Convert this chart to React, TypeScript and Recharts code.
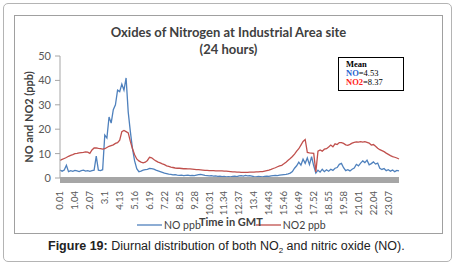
import React from "react";
import { LineChart, Line, XAxis, YAxis } from "recharts";

const TICK_LABELS = [
  "0.01", "1.04", "2.07", "3.1", "4.13", "5.16", "6.19", "7.22", "8.25", "9.28",
  "10.31", "11.34", "12.37", "13.4", "14.43", "15.46", "16.49", "17.52", "18.55",
  "19.58", "21.01", "22.04", "23.07",
];
const POINTS_PER_TICK = 7;

const Y_TICKS = [0, 10, 20, 30, 40, 50];

// NO (ppb), one reading every 9 minutes from 0.01
const NO = [
  3.2, 2.8, 3.3, 5.2, 2.6, 3.0, 2.7, 3.1, 2.9, 2.6,
  3.0, 3.2, 2.8, 3.0, 2.7, 3.0, 3.2, 9.0, 3.2, 3.0,
  3.4, 17.6, 16.4, 25.0, 22.5, 28.0, 30.0, 36.0, 35.4, 38.5,
  36.0, 41.0, 27.0, 19.0, 12.0, 7.0, 3.8, 2.6, 2.8, 3.2,
  3.4, 3.5, 3.9, 3.8, 3.6, 3.2, 2.9, 2.6, 2.3, 2.0,
  1.8, 1.6, 1.5, 1.3, 1.4, 1.2, 1.1, 1.2, 1.0, 1.1,
  1.2, 1.0, 1.1, 1.0, 1.2, 1.4, 1.5, 1.3, 1.1, 1.0,
  0.9, 1.0, 0.8, 0.9, 0.7, 0.8, 0.6, 0.7, 0.5, 0.6,
  0.5, 0.7, 0.8, 0.6, 0.9, 1.0, 0.8, 1.1, 0.9, 1.0,
  0.8, 0.6, 0.5, 0.7, 0.6, 0.5, 0.7, 0.8, 0.7, 0.9,
  1.0, 1.1, 1.0, 1.2, 1.3, 1.4, 1.5, 1.7, 2.0, 2.6,
  4.0, 5.0, 6.5, 5.3, 7.7, 6.0, 8.2, 5.5, 8.7, 5.0,
  2.0, 3.2, 2.4, 3.6, 2.6, 3.4, 2.8, 3.6, 3.1, 4.0,
  4.3, 5.6, 6.0, 4.2, 3.0, 3.4, 2.9, 3.6, 4.1, 5.6,
  5.0, 6.1, 7.0, 6.3, 7.3, 5.4, 5.9, 6.6, 5.7, 6.1,
  4.0, 3.5, 3.9, 3.0, 3.4, 2.8, 3.3, 2.6, 3.1, 2.9,
];

// NO2 (ppb), same time steps
const NO2 = [
  7.2, 7.6, 8.0, 8.4, 8.9, 9.3, 9.6, 10.0, 10.1, 10.3,
  10.4, 10.5, 10.7, 10.6, 10.1, 11.5, 12.3, 12.3, 12.1, 12.0,
  11.8, 12.0, 12.5, 13.0, 13.3, 13.6, 14.2, 14.5, 15.5, 19.0,
  19.5, 19.0, 18.5, 15.0, 12.0, 9.5, 7.8, 7.0, 6.5, 6.2,
  6.5, 7.2, 8.5, 8.3, 7.6, 7.0, 6.5, 6.2, 5.8, 5.5,
  5.0, 4.8, 4.5, 4.3, 4.1, 4.0, 4.0, 3.9, 3.8, 3.8,
  3.7, 3.7, 3.6, 3.5, 3.4, 3.4, 3.3, 3.2, 3.1, 3.1,
  3.0, 3.0, 3.0, 2.9, 2.9, 2.9, 2.9, 2.8, 2.8, 2.7,
  2.6, 2.5, 2.5, 2.4, 2.4, 2.3, 2.3, 2.3, 2.3, 2.4,
  2.4, 2.4, 2.5, 2.5, 2.6, 2.6, 2.8, 3.0, 3.2, 3.5,
  3.9, 4.2, 4.6, 5.0, 5.2, 5.8, 6.5, 7.3, 8.0, 8.8,
  9.8, 11.0, 12.0, 13.5, 15.0, 15.8, 10.5, 10.3, 10.2, 10.1,
  2.5, 11.0, 11.5, 11.0, 11.8, 12.0, 12.7, 13.5, 12.8, 14.0,
  13.7, 14.5, 14.5, 14.2, 13.6, 13.4, 13.8, 14.3, 14.6, 14.8,
  14.7, 14.9, 14.7, 14.9, 14.6, 14.3, 13.5, 13.7, 13.0, 12.2,
  11.6, 11.2, 10.8, 10.2, 9.7, 9.2, 8.8, 8.5, 8.2, 7.8,
];

const SERIES = [
  { key: "no", name: "NO ppb", color: "#4f81bd" },
  { key: "no2", name: "NO2 ppb", color: "#c0504d" },
];

const data = NO.map((v, i) => ({ i, no: v, no2: NO2[i] }));
const xTicks = TICK_LABELS.map((_, k) => k * POINTS_PER_TICK);

const SANS = "Lato, 'Open Sans', sans-serif";
const SERIF = "'Liberation Serif', 'DejaVu Serif', serif";

const XTick = (props: any) => {
  const { x, y, payload } = props;
  const label = TICK_LABELS[Math.round(payload.value / POINTS_PER_TICK)] ?? "";
  const ty = y + 11;
  return (
    <text
      x={x}
      y={ty}
      transform={`rotate(-90, ${x}, ${ty})`}
      textAnchor="end"
      dy="0.35em"
      fontSize={9.5}
      fontFamily={SANS}
      fill="#595959"
    >
      {label}
    </text>
  );
};

export default function App() {
  return (
    <div style={{ position: "absolute", left: 0, top: 0, width: 455, height: 265, background: "#fff", overflow: "hidden" }}>
      <div style={{ position: "absolute", left: 3, top: 3, width: 447, height: 257, border: "1px solid #b4b4b4", borderRadius: 5 }} />
      <div style={{ position: "absolute", left: 14, top: 15, width: 427, height: 217, border: "1px solid #a0a0a0" }} />
      <div style={{ position: "absolute", left: 0, top: 0 }}>
        <LineChart width={455} height={265} data={data} margin={{ top: 56, right: 56, bottom: 37, left: 20 }}>
          <XAxis
            dataKey="i"
            type="number"
            domain={[0, NO.length - 1]}
            ticks={xTicks}
            interval={0}
            tick={<XTick />}
            tickLine={false}
            tickSize={0}
            height={50}
            axisLine={{ stroke: "#a6a6a6", strokeWidth: 6, transform: "translate(0,2)" }}
          />
          <YAxis
            type="number"
            domain={[0, 50]}
            ticks={Y_TICKS}
            width={40}
            tickSize={5}
            tickMargin={4}
            axisLine={{ stroke: "#a6a6a6" }}
            tickLine={{ stroke: "#a6a6a6" }}
            tick={{ fontSize: 11, fontFamily: SANS, fill: "#595959" }}
          />
          {SERIES.map((s) => (
            <Line key={s.key} type="linear" dataKey={s.key} name={s.name} stroke={s.color} strokeWidth={1.3} dot={false} isAnimationActive={false} />
          ))}
        </LineChart>
      </div>
      <div style={{ position: "absolute", left: 137, top: 219, display: "flex", alignItems: "center", fontFamily: SANS, fontSize: 10.5, color: "#404040" }}>
        {SERIES.map((s, k) => (
          <div key={s.key} style={{ display: "flex", alignItems: "center", marginRight: k === 0 ? 55 : 0 }}>
            <svg width={25} height={8} style={{ display: "block" }}>
              <line x1={0} y1={4} x2={25} y2={4} stroke={s.color} strokeWidth={1.3} />
            </svg>
            <span style={{ marginLeft: 2 }}>{s.name}</span>
          </div>
        ))}
      </div>
      <div style={{ position: "absolute", left: 0, width: 455, top: 24, textAlign: "center", fontFamily: SANS, fontWeight: 700, fontSize: 13, lineHeight: "17px", color: "#404040", paddingLeft: 1 }}>
        Oxides of Nitrogen at Industrial Area site
        <br />
        (24 hours)
      </div>
      <div style={{ position: "absolute", left: 28, top: 117, width: 0, height: 0 }}>
        <div style={{ position: "absolute", left: 0, top: 0, transform: "translate(-50%, -50%) rotate(-90deg)", whiteSpace: "nowrap", fontFamily: SANS, fontWeight: 700, fontSize: 11, color: "#404040" }}>
          NO and NO2 (ppb)
        </div>
      </div>
      <div style={{ position: "absolute", left: 199, top: 215, fontFamily: SANS, fontWeight: 700, fontSize: 11, color: "#404040", whiteSpace: "nowrap" }}>
        Time in GMT
      </div>
      <div style={{ position: "absolute", left: 338, top: 57, width: 66, height: 34, border: "1px solid #000", background: "#fff", fontFamily: SERIF, fontSize: 8.5, lineHeight: "9px", paddingLeft: 7, paddingTop: 2, boxSizing: "border-box", color: "#000" }}>
        <div style={{ fontWeight: 700 }}>Mean</div>
        <div><span style={{ color: "#1f5fd0", fontWeight: 700 }}>NO</span>=4.53</div>
        <div><span style={{ color: "#ff2020", fontWeight: 700 }}>NO2</span>=8.37</div>
      </div>
      <div style={{ position: "absolute", left: 48, top: 239, fontFamily: "'Liberation Sans', Arial, sans-serif", fontSize: 12.5, color: "#222", whiteSpace: "nowrap" }}>
        <b>Figure 19:</b> Diurnal distribution of both NO<sub style={{ fontSize: 8, verticalAlign: "-3px", lineHeight: 0 }}>2</sub> and nitric oxide (NO).
      </div>
    </div>
  );
}
